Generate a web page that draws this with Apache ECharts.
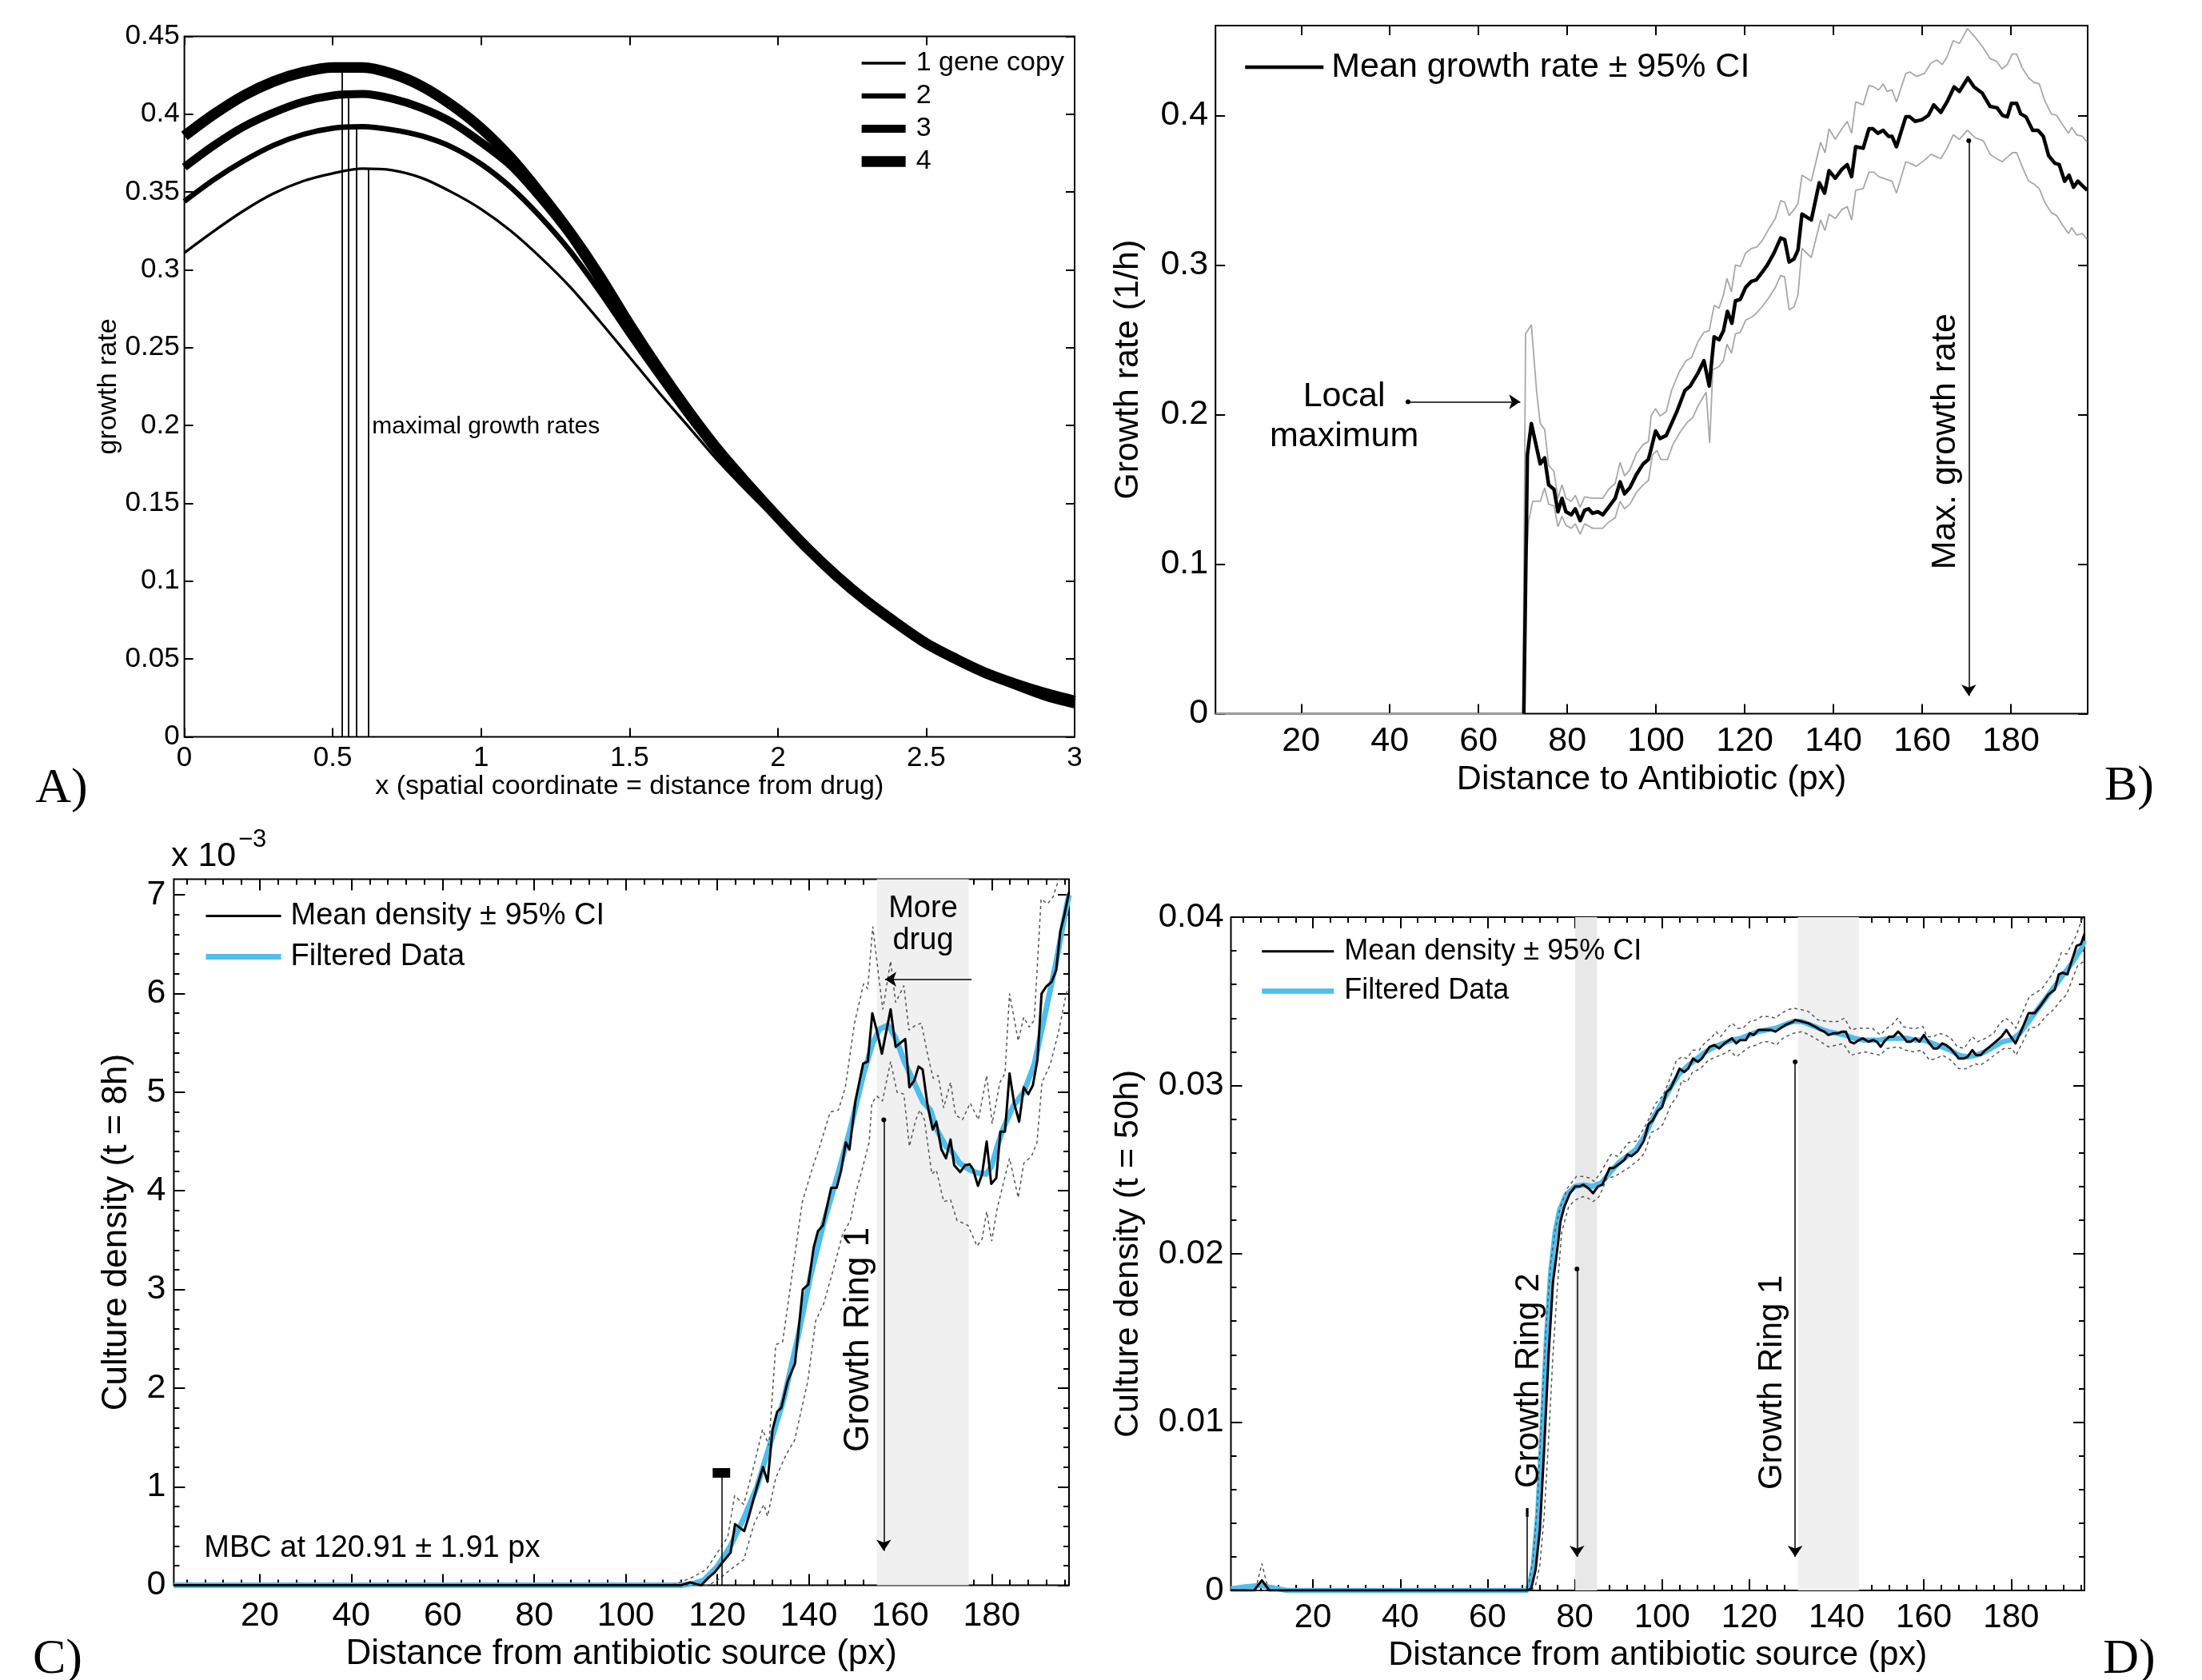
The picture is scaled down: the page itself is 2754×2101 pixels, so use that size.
<!DOCTYPE html>
<html><head><meta charset="utf-8">
<script src="https://cdn.jsdelivr.net/npm/echarts@6/dist/echarts.min.js"></script>
<style>html,body{margin:0;padding:0;background:#fff}#c{width:2754px;height:2101px}</style>
</head><body><div id="c"></div>
<script>
// ---------------- DATA ----------------
// Panel A: growth rate vs x for 1..4 gene copies
const aX  = [0,0.1,0.2,0.3,0.4,0.5,0.6,0.7,0.8,0.9,1.0,1.1,1.2,1.3,1.4,1.5,1.6,1.7,1.8,1.9,2.0,2.1,2.2,2.3,2.4,2.5,2.6,2.7,2.8,2.9,3.0];
const aC1 = [0.311,0.325,0.338,0.349,0.357,0.362,0.365,0.364,0.359,0.350,0.339,0.325,0.308,0.289,0.267,0.244,0.221,0.199,0.177,0.157,0.138,0.119,0.101,0.085,0.071,0.058,0.048,0.039,0.031,0.024,0.019];
const aC2 = [0.344,0.358,0.370,0.380,0.387,0.391,0.392,0.390,0.386,0.379,0.368,0.353,0.334,0.312,0.286,0.258,0.231,0.205,0.181,0.160,0.140,0.120,0.102,0.086,0.072,0.059,0.049,0.040,0.033,0.027,0.022];
const aC3 = [0.366,0.380,0.392,0.401,0.408,0.412,0.413,0.410,0.404,0.395,0.382,0.367,0.346,0.322,0.293,0.262,0.234,0.207,0.182,0.161,0.141,0.121,0.103,0.087,0.073,0.060,0.050,0.041,0.034,0.028,0.022];
const aC4 = [0.386,0.400,0.412,0.421,0.427,0.430,0.430,0.426,0.418,0.406,0.391,0.372,0.349,0.324,0.296,0.265,0.236,0.209,0.184,0.162,0.141,0.121,0.103,0.087,0.073,0.060,0.050,0.041,0.034,0.028,0.023];
const aNames = ['1 gene copy','2','3','4'];
const aPeakX = [0.531,0.554,0.581,0.619];
const aPeakY = [0.430,0.413,0.392,0.365];

// Panel B: growth rate (1/h) vs distance
const bMean = [[70.2,0],[71,0.173],[71.9,0.194],[73.9,0.167],[74.9,0.171],[75.8,0.153],[77,0.150],[77.9,0.135],[78.8,0.144],[79.7,0.135],[80.9,0.133],[81.8,0.137],[82.9,0.129],[83.9,0.136],[84.8,0.137],[85.7,0.134],[86.9,0.135],[88,0.133],[89.3,0.138],[90.8,0.144],[91.9,0.155],[92.9,0.147],[94.1,0.151],[95.6,0.160],[97.1,0.167],[98.3,0.170],[99.9,0.189],[100.9,0.184],[102.3,0.186],[103.5,0.194],[104.7,0.202],[106.5,0.216],[107.7,0.219],[109.5,0.228],[110.8,0.236],[112,0.219],[113.1,0.252],[114.2,0.250],[115.2,0.256],[116.1,0.269],[117.1,0.261],[117.9,0.276],[119,0.277],[120.2,0.285],[121.5,0.289],[122.6,0.290],[123.9,0.295],[125.1,0.300],[126.6,0.308],[128.1,0.318],[129,0.317],[130,0.302],[131.1,0.304],[132,0.310],[132.9,0.334],[135,0.330],[136.8,0.355],[138,0.348],[139,0.363],[140.4,0.358],[141.9,0.364],[143.1,0.367],[144.1,0.359],[145,0.379],[146.7,0.378],[148,0.391],[148.9,0.391],[150,0.388],[151.2,0.390],[152.4,0.386],[153.2,0.386],[154.2,0.379],[156.3,0.399],[157.2,0.399],[158.4,0.396],[159.9,0.397],[161.4,0.400],[162.6,0.407],[164.2,0.402],[165.6,0.409],[167.2,0.419],[168.4,0.416],[170.3,0.425],[171.7,0.419],[173.5,0.415],[175.3,0.406],[176.9,0.405],[178.1,0.400],[179.2,0.399],[180.1,0.408],[181.3,0.408],[182.2,0.401],[183.4,0.399],[184.9,0.390],[186.1,0.390],[187.3,0.386],[188.5,0.373],[189.9,0.368],[190.9,0.367],[192.1,0.356],[193.1,0.360],[194.1,0.352],[195.1,0.356],[196.1,0.353],[197.2,0.350]];
const bUpper = [[0.7,0],[70,0],[70.6,0.254],[71.9,0.260],[73.1,0.215],[73.9,0.194],[74.9,0.190],[75.8,0.166],[77,0.162],[77.9,0.144],[78.8,0.153],[79.7,0.144],[80.9,0.142],[81.8,0.146],[82.9,0.138],[83.9,0.145],[85.7,0.144],[88,0.144],[89.3,0.150],[90.8,0.154],[91.9,0.168],[92.9,0.159],[94.1,0.163],[95.6,0.174],[97.1,0.180],[98.3,0.182],[98.9,0.199],[99.9,0.204],[100.9,0.199],[102.3,0.202],[103.5,0.216],[105.3,0.229],[106.8,0.236],[108,0.238],[109.5,0.249],[110.8,0.255],[112,0.256],[113.1,0.273],[114.2,0.271],[115.2,0.280],[116,0.291],[117,0.282],[117.9,0.300],[119,0.299],[120.2,0.308],[121.5,0.311],[122.7,0.312],[123.9,0.316],[125.4,0.324],[126.9,0.331],[128.1,0.343],[129,0.342],[130,0.333],[131.1,0.337],[132,0.341],[132.9,0.360],[135,0.356],[137.1,0.382],[138.1,0.375],[139,0.391],[140.4,0.384],[141.9,0.391],[143.1,0.396],[144.1,0.388],[145,0.409],[146.7,0.407],[148,0.420],[149.1,0.419],[150.2,0.417],[151.2,0.421],[152.1,0.416],[153.2,0.417],[154.2,0.409],[156.3,0.428],[157.2,0.429],[158.7,0.426],[160.5,0.428],[162,0.435],[163.3,0.437],[164.5,0.434],[165.6,0.439],[167,0.450],[168.4,0.448],[170.2,0.458],[172,0.452],[173.8,0.445],[175.3,0.438],[176.8,0.436],[178,0.431],[179.2,0.434],[180.3,0.441],[181.3,0.441],[182.5,0.432],[184,0.425],[185.2,0.422],[186.4,0.421],[187.6,0.410],[189.1,0.401],[190.3,0.400],[191.8,0.393],[193,0.388],[193.7,0.392],[194.8,0.387],[196.1,0.386],[197.2,0.382]];
const bLower = [[0.7,0],[70,0],[70.7,0.098],[71.3,0.129],[72.2,0.142],[73.1,0.142],[73.9,0.142],[74.9,0.151],[75.8,0.140],[77,0.139],[77.9,0.125],[78.8,0.132],[79.7,0.126],[80.9,0.124],[81.8,0.127],[82.9,0.120],[83.9,0.127],[85.7,0.124],[88,0.124],[89.3,0.128],[90.8,0.131],[91.9,0.142],[92.9,0.137],[94.1,0.140],[95.6,0.148],[97.1,0.153],[98.3,0.156],[99.2,0.173],[100.2,0.176],[101.1,0.170],[102.6,0.170],[103.8,0.180],[105.6,0.189],[107.1,0.195],[108.3,0.198],[109.5,0.206],[110.7,0.212],[111.3,0.215],[112.1,0.181],[112.8,0.230],[114.2,0.232],[115.2,0.236],[116,0.247],[117,0.241],[117.9,0.254],[119,0.255],[120.2,0.263],[121.5,0.265],[122.7,0.268],[123.9,0.272],[125.4,0.278],[126.9,0.285],[128.1,0.293],[129,0.292],[130,0.270],[131.1,0.272],[132,0.280],[132.9,0.311],[135,0.305],[137.1,0.330],[138.1,0.323],[139,0.334],[140.4,0.331],[141.9,0.337],[143.1,0.339],[144.1,0.330],[145,0.350],[146.7,0.351],[148,0.362],[149.1,0.362],[150.2,0.359],[152.1,0.357],[153.2,0.356],[154.2,0.348],[156.3,0.369],[157.2,0.368],[158.7,0.366],[160.5,0.370],[162,0.374],[164.2,0.371],[165.6,0.378],[167,0.387],[168.4,0.384],[170.2,0.390],[172,0.385],[173.8,0.383],[175.3,0.374],[176.8,0.371],[178,0.369],[179.2,0.372],[180.3,0.375],[181.3,0.375],[182.5,0.366],[184,0.356],[185.2,0.354],[186.4,0.351],[187.6,0.342],[189.1,0.335],[190.3,0.333],[191.8,0.326],[193,0.321],[193.7,0.325],[194.8,0.320],[196.1,0.321],[197.2,0.317]];

// Panel C: culture density (x10^-3) at t = 8h
const cMean = [[1.2,0],[112,0],[114.1,0.03],[116.5,0],[117.9,0.07],[119.4,0.13],[121.1,0.23],[122.9,0.33],[123.9,0.62],[125.9,0.55],[126.9,0.70],[128.7,1.00],[130,1.20],[131,1.05],[132.1,1.58],[133.1,1.76],[134,1.80],[135.4,2.07],[137,2.25],[138.7,3.00],[139.9,3.05],[141.1,3.43],[142,3.59],[143.1,3.65],[144.9,4.03],[146.1,4.03],[147.1,4.21],[148.1,4.49],[148.9,4.42],[150.2,4.91],[151.9,5.29],[152.9,5.31],[153.9,5.80],[154.9,5.62],[156,5.39],[157.9,5.84],[159,5.46],[161.1,5.54],[162,5.05],[163.1,5.12],[164,5.26],[164.9,5.23],[166,4.86],[167.1,4.62],[167.9,4.70],[169,4.42],[170,4.33],[171,4.52],[171.8,4.26],[173.1,4.19],[174.2,4.26],[175.2,4.27],[175.9,4.22],[177,4.05],[177.9,4.17],[178.9,4.50],[179.9,4.07],[181,4.13],[181.9,4.60],[182.9,4.60],[183.9,5.19],[184.9,4.89],[186,4.70],[187,5.05],[188,4.98],[189,5.07],[190,5.33],[190.9,6.00],[191.9,6.07],[193.1,6.12],[194.1,6.24],[195,6.63],[195.9,6.80],[196.9,7.03]];
const cFilt = [[1.2,0],[112,0],[115,0.02],[117,0.05],[120,0.19],[122.9,0.40],[125.8,0.68],[128.7,1.0],[131.6,1.44],[134.5,1.88],[137.5,2.49],[140.4,3.14],[143.3,3.68],[146.2,4.14],[149.1,4.63],[152,5.19],[154,5.50],[155.5,5.64],[157.3,5.68],[159,5.55],[161,5.30],[163,5.10],[165,4.90],[166.6,4.82],[168,4.62],[170,4.45],[171.3,4.40],[173,4.28],[175.3,4.21],[177,4.18],[178.8,4.17],[180,4.25],[181.2,4.45],[182.5,4.63],[184.7,4.86],[187,5.0],[189.3,5.28],[191.7,5.8],[194,6.3],[196.3,6.87],[196.9,7.0]];
const cUpper = [[1.2,0],[110,0],[114.1,0.07],[117.6,0.16],[120,0.33],[122.3,0.49],[123.8,0.91],[125.8,0.82],[128.1,1.23],[129.9,1.58],[131.3,1.42],[132.8,2.44],[134.3,2.47],[136,3.03],[138.6,3.89],[141,4.26],[142.4,4.45],[144.7,4.80],[146.5,4.82],[148,5.05],[150,5.70],[152,6.10],[152.9,6.05],[154,6.68],[155.2,6.21],[156.2,5.84],[157.9,6.33],[159,5.91],[160.8,6.08],[161.9,5.63],[163.4,5.68],[164.6,5.70],[166,5.38],[167.2,5.14],[168.3,5.17],[169.5,4.84],[171,5.10],[172.1,4.77],[173.6,4.72],[175.3,4.89],[177.1,4.72],[178.9,5.17],[180.1,4.68],[181.8,5.10],[182.9,5.19],[183.9,6.00],[185.8,5.52],[187,5.76],[188.2,5.66],[189.3,5.73],[190.8,6.96],[192.2,6.91],[193.4,6.98],[194.6,7.15],[195.7,7.3],[196.9,7.4]];
const cLower = [[1.2,0],[118,0],[120,0.05],[122.9,0.16],[125.8,0.26],[128.1,0.63],[130.2,0.82],[131,0.70],[132.8,1.09],[135.1,1.33],[136.9,1.47],[139.8,2.07],[141.5,2.68],[143.3,2.86],[145.3,3.19],[147.4,3.56],[149.1,3.70],[150.3,3.98],[151.4,4.17],[153.2,4.49],[153.8,4.89],[154.9,4.96],[156.1,4.91],[157.9,5.31],[159.3,5.00],[160.8,4.98],[162,4.45],[163.4,4.72],[164.3,4.82],[165.3,4.72],[166.9,4.17],[167.9,4.21],[169.5,3.89],[171,3.91],[172.4,3.70],[174.8,3.65],[176.8,3.44],[177.9,3.51],[178.9,3.79],[180,3.49],[181.2,3.82],[182.3,4.03],[183.9,4.33],[185.8,3.93],[187,4.28],[188.7,4.35],[189.9,4.49],[191,5.10],[192.8,5.28],[194.6,5.61],[196.3,6.00],[196.9,6.07]];

// Panel D: culture density at t = 50h
const dMean = [[1.2,0],[6.5,0],[8.3,0.0006],[10,0],[69,0],[70,0.0001],[71,0.0012],[72,0.0036],[73,0.0085],[74,0.0140],[75,0.0183],[76.1,0.0205],[76.7,0.0219],[77.6,0.0228],[78.9,0.0236],[80.1,0.0240],[81,0.0240],[82,0.0241],[83.1,0.0239],[84.2,0.0236],[85.3,0.0240],[86.3,0.0241],[88,0.0251],[88.9,0.0251],[90.5,0.0254],[91.4,0.0256],[92.1,0.0259],[93,0.0258],[94.4,0.0261],[95.8,0.0267],[96.9,0.0277],[97.8,0.0279],[99,0.0285],[100,0.0287],[101,0.0296],[101.9,0.0298],[103,0.0304],[104,0.0310],[105.1,0.0308],[106,0.0310],[107.1,0.0316],[108.2,0.0314],[109.1,0.0316],[110.9,0.0323],[112,0.0324],[113.1,0.0322],[114.3,0.0325],[116,0.0328],[117,0.0325],[117.9,0.0327],[119.2,0.0327],[120.1,0.0331],[121,0.0330],[122.1,0.0333],[123.4,0.0333],[125,0.0333],[126,0.0332],[127.1,0.0334],[128.3,0.0336],[130.1,0.0338],[130.5,0.0339],[132,0.0338],[133.5,0.0337],[135,0.0335],[136.3,0.0333],[137.2,0.0332],[138.1,0.0330],[139.3,0.0331],[140.4,0.0331],[141.2,0.0332],[142.1,0.0332],[143.1,0.0326],[144,0.0325],[145.1,0.0327],[146,0.0328],[147.3,0.0326],[148.4,0.0327],[149.2,0.0326],[150.1,0.0323],[151.2,0.0327],[152.1,0.0329],[153,0.0329],[154.1,0.0332],[154.9,0.0330],[156.1,0.0326],[157,0.0326],[158.1,0.0328],[159,0.0326],[160,0.0330],[161,0.0326],[162.2,0.0322],[163.1,0.0322],[164.2,0.0325],[165.1,0.0324],[166.1,0.0322],[167.1,0.0319],[168,0.0316],[169.1,0.0316],[170,0.0317],[171.1,0.0321],[172,0.0318],[173,0.0318],[174.1,0.0321],[176,0.0325],[177.8,0.0329],[178.9,0.0333],[179.9,0.0329],[181,0.0325],[182.4,0.0333],[184,0.0343],[185.4,0.0343],[186.9,0.0348],[188.5,0.0354],[190,0.0357],[190.9,0.0366],[191.8,0.0367],[192.9,0.0366],[194,0.0375],[195,0.0383],[196,0.0384],[196.8,0.0390]];
const dFilt = [[1.2,0.0001],[4,0.0002],[8,0.0003],[12,0.0001],[14,0],[69,0],[69.7,0.0004],[70.5,0.0015],[71.5,0.0045],[72.5,0.0095],[73.5,0.0150],[74.5,0.0190],[75.5,0.0213],[76.5,0.0226],[78,0.0235],[80,0.0240],[82,0.0241],[84,0.0240],[86,0.0242],[88,0.0248],[90,0.0254],[92,0.0258],[94,0.0262],[96,0.0270],[98,0.0281],[100,0.0290],[102,0.0299],[104,0.0307],[106,0.0312],[108,0.0316],[110,0.0320],[112,0.0323],[114,0.0325],[116,0.0327],[118,0.0328],[120,0.0330],[122,0.0332],[124,0.0333],[126,0.0334],[128,0.0336],[130,0.0338],[132,0.0338],[134,0.0336],[136,0.0334],[138,0.0332],[140,0.0331],[142,0.0330],[144,0.0328],[146,0.0327],[148,0.0327],[150,0.0327],[152,0.0328],[154,0.0328],[156,0.0328],[158,0.0327],[160,0.0327],[162,0.0325],[164,0.0323],[166,0.0321],[168,0.0318],[170,0.0317],[172,0.0318],[174,0.0320],[176,0.0323],[178,0.0326],[180,0.0327],[182,0.0331],[184,0.0338],[186,0.0345],[188,0.0352],[190,0.0359],[192,0.0366],[194,0.0373],[196,0.0381],[196.8,0.0386]];
const dUpper = [[1.2,0],[6.8,0],[8.3,0.0016],[9.8,0],[68.5,0],[69.5,0.0004],[70.5,0.002],[71.5,0.0055],[72.5,0.011],[73.5,0.0160],[74.5,0.0195],[75.5,0.0214],[76.7,0.0228],[78.3,0.0239],[80.4,0.0246],[81.9,0.0246],[83.4,0.0245],[84.4,0.0243],[85.6,0.0247],[88.3,0.0259],[89.9,0.0258],[92.3,0.0266],[94.1,0.0267],[96.6,0.0278],[98.4,0.0289],[100.2,0.0294],[101.5,0.0302],[103.3,0.0315],[104.6,0.0317],[105.7,0.0316],[107,0.0321],[108.5,0.0321],[110,0.0326],[111.2,0.0328],[112.4,0.0332],[113.4,0.0329],[114.9,0.0334],[116.1,0.0337],[117.3,0.0334],[118.5,0.0334],[120.1,0.0338],[121.6,0.0339],[122.8,0.0341],[124.7,0.0341],[125.9,0.0340],[127.4,0.0343],[128.9,0.0345],[130.1,0.0346],[132,0.0345],[133.5,0.0344],[135.7,0.0339],[138.1,0.0338],[140.2,0.0338],[141.8,0.0340],[143.3,0.0333],[144.8,0.0334],[146.3,0.0334],[148.2,0.0334],[150,0.0330],[151.5,0.0334],[152.7,0.0336],[154,0.0340],[155.2,0.0335],[157,0.0334],[158.2,0.0334],[159.8,0.0335],[160.7,0.0329],[162.2,0.0329],[163.4,0.0331],[164.9,0.0330],[166.2,0.0328],[167.7,0.0323],[169.2,0.0322],[171.1,0.0329],[172.3,0.0326],[174.1,0.0328],[176,0.0331],[177.2,0.0336],[178.7,0.0340],[179.9,0.0338],[181.1,0.0334],[182.7,0.0344],[184.2,0.0353],[185.7,0.0355],[187.2,0.0358],[189.1,0.0365],[190.6,0.0372],[191.5,0.0379],[192.7,0.0378],[193.7,0.0383],[194.9,0.0389],[196.1,0.0398],[196.8,0.0401]];
const dLower = [[1.2,0],[70,0],[71,0.0003],[72,0.0015],[73,0.0045],[74,0.0090],[75,0.0140],[76,0.0180],[77,0.0213],[78.6,0.0228],[80.1,0.0232],[81.9,0.0234],[83.1,0.0233],[84.2,0.0231],[85.6,0.0234],[87.4,0.0245],[89.2,0.0246],[92.3,0.0251],[94.7,0.0256],[96,0.0260],[97.5,0.0272],[99,0.0274],[100.2,0.0277],[102.1,0.0289],[103.3,0.0293],[104.5,0.0303],[105.7,0.0302],[107,0.0308],[108.8,0.0310],[110.6,0.0315],[112.4,0.0317],[114.3,0.0319],[115.5,0.0321],[117,0.0317],[118.5,0.0320],[120.1,0.0323],[121.6,0.0324],[123.1,0.0326],[124.7,0.0326],[126.2,0.0324],[127.7,0.0328],[129.2,0.0330],[130.1,0.0331],[132,0.0332],[133.8,0.0330],[135.7,0.0327],[138.1,0.0323],[140.2,0.0324],[141.5,0.0325],[143.3,0.0318],[144.8,0.0319],[146.6,0.0320],[148.2,0.0319],[150,0.0318],[151.5,0.0322],[154,0.0323],[155.8,0.0321],[157.6,0.0320],[159.5,0.0321],[161.3,0.0315],[162.8,0.0316],[164.3,0.0318],[166.2,0.0315],[168,0.0310],[169.8,0.0310],[171.7,0.0313],[172.9,0.0312],[174.7,0.0315],[176.6,0.0319],[178.4,0.0322],[180.2,0.0322],[181.1,0.0318],[182.7,0.0326],[184.2,0.0334],[186,0.0335],[187.9,0.0341],[189.7,0.0345],[191.2,0.0350],[192.7,0.0354],[194,0.0363],[195.2,0.0371],[196.8,0.0374]];

// Tick labels
const aXTicks = [0,0.5,1,1.5,2,2.5,3];
const aYTicks = [0,0.05,0.1,0.15,0.2,0.25,0.3,0.35,0.4,0.45];
const pxTicks = [20,40,60,80,100,120,140,160,180];
const bYTicks = [0,0.1,0.2,0.3,0.4];
const cYTicks = [0,1,2,3,4,5,6,7];
const dYTicks = [0,0.01,0.02,0.03,0.04];

// ---------------- STYLE / LAYOUT ----------------
const FONT = "'Liberation Sans', Arial, Helvetica, sans-serif";
const SERIF = "'Liberation Serif', 'Times New Roman', serif";
const BLUE = '#4DBEEE';

function minorList(lo, hi, step, majorStep) {
  const out = [];
  for (let k = Math.ceil(lo / step); k * step <= hi + 1e-9; k++) {
    const v = +(k * step).toFixed(6);
    if (Math.abs(v / majorStep - Math.round(v / majorStep)) > 1e-6) out.push(v);
  }
  return out;
}

const grids = [
  {left:230.6, top:45.5, width:1113.4, height:875.9},
  {left:1520.2, top:32, width:1090.8, height:860.6},
  {left:217.4, top:1099.5, width:1119.6, height:883.1},
  {left:1539.5, top:1147, width:1067.5, height:842}
].map(g => Object.assign(g, {show:true, borderColor:'#000', borderWidth:2, backgroundColor:'transparent', containLabel:false}));

const xAxes = [], yAxes = [];
function axisSet(dim, g, cfg) {
  const arr = dim === 'x' ? xAxes : yAxes;
  const sides = dim === 'x' ? ['bottom','top'] : ['left','right'];
  const common = () => ({type:'value', gridIndex:g, min:cfg.min, max:cfg.max,
    axisLine:{show:false, onZero:false}, splitLine:{show:false}, minorTick:{show:false}, minorSplitLine:{show:false}});
  const tick = (vals, len) => ({show:true, inside:true, length:len, customValues:vals, lineStyle:{color:'#000', width:2}});
  const main = arr.length;
  arr.push(Object.assign(common(), {position:sides[0], name:cfg.name, nameLocation:'middle', nameGap:cfg.nameGap,
    nameRotate: dim === 'y' ? 90 : 0,
    nameTextStyle:{fontSize:cfg.nameFs, fontFamily:FONT, color:'#000'},
    axisTick:tick(cfg.major, cfg.tickLen),
    axisLabel:{show:true, customValues:cfg.major, fontSize:cfg.fs, fontFamily:FONT, color:'#000', margin:cfg.margin}}));
  arr.push(Object.assign(common(), {position:sides[1], axisTick:tick(cfg.major, cfg.tickLen), axisLabel:{show:false}}));
  if (cfg.minor) {
    sides.forEach(s => arr.push(Object.assign(common(), {position:s, axisTick:tick(cfg.minor, cfg.minorLen), axisLabel:{show:false}})));
  }
  return main;
}

const MX = [], MY = [];
// A
MX[0] = axisSet('x', 0, {min:0, max:3, major:aXTicks, fs:35, margin:9, name:'x (spatial coordinate = distance from drug)', nameGap:36, nameFs:34, tickLen:11});
MY[0] = axisSet('y', 0, {min:0, max:0.45, major:aYTicks, fs:35, margin:6, name:'growth rate', nameGap:77, nameFs:34, tickLen:11});
// B
MX[1] = axisSet('x', 1, {min:0.7, max:197.3, major:pxTicks, fs:43, margin:13, name:'Distance to Antibiotic (px)', nameGap:61, nameFs:43, tickLen:12});
MY[1] = axisSet('y', 1, {min:0, max:0.46, major:bYTicks, fs:43, margin:9, name:'Growth rate (1/h)', nameGap:88, nameFs:43, tickLen:12});
// C
MX[2] = axisSet('x', 2, {min:1.2, max:196.9, major:pxTicks, minor:minorList(1.2,196.9,4,20), fs:43, margin:17, name:'Distance from antibiotic source (px)', nameGap:64, nameFs:44, tickLen:14, minorLen:7});
MY[2] = axisSet('y', 2, {min:0, max:7.16, major:cYTicks, minor:minorList(0,7.16,0.2,1), fs:43, margin:10, name:'Culture density (t = 8h)', nameGap:50, nameFs:44, tickLen:14, minorLen:7});
// D
MX[3] = axisSet('x', 3, {min:1.2, max:196.8, major:pxTicks, minor:minorList(1.2,196.8,4,20), fs:42, margin:13, name:'Distance from antibiotic source (px)', nameGap:60, nameFs:43, tickLen:14, minorLen:7});
MY[3] = axisSet('y', 3, {min:0, max:0.04, major:dYTicks, minor:minorList(0,0.04,0.002,0.01), fs:42, margin:9, name:'Culture density (t = 50h)', nameGap:107, nameFs:43, tickLen:14, minorLen:7});

const series = [];
function lineS(g, name, data, lineStyle, extra) {
  const s = Object.assign({type:'line', name:name, xAxisIndex:MX[g], yAxisIndex:MY[g], data:data,
    symbol:'none', showSymbol:false, silent:true, animation:false, clip:true, lineStyle:lineStyle}, extra || {});
  series.push(s);
  return s;
}
const arrowLine = (from, to, dot, width) => [
  {coord:from, symbol: dot ? 'circle' : 'none', symbolSize: 6, lineStyle:{width: width || 1.5}},
  {coord:to, symbol: width ? 'none' : 'arrow', symbolSize: 14, lineStyle:{width: width || 1.5}}
];
const mlBase = (data) => ({silent:true, animation:false, symbol:['none','none'], label:{show:false},
  lineStyle:{color:'#000', type:'solid', width:1.5}, emphasis:{disabled:true}, data:data});

// Panel A
const aWidths = [3.3, 6.7, 10, 13.3];
[aC1, aC2, aC3, aC4].forEach((c, i) => {
  lineS(0, aNames[i], aX.map((x, k) => [x, c[k]]), {color:'#000', width:aWidths[i], cap:'butt'}, {smooth:0.3});
});
lineS(0, '', [[aPeakX[0], 0]], {color:'#000', width:0}, {
  markLine: mlBase(aPeakX.map((x, i) => [{coord:[x, 0]}, {coord:[x, aPeakY[i]]}]))
});
series[series.length - 1].markLine.lineStyle.width = 1.8;

// Panel B
lineS(1, '', bUpper, {color:'#a8a8a8', width:1.8});
lineS(1, '', bLower, {color:'#a8a8a8', width:1.8});
lineS(1, 'Mean growth rate ± 95% CI', bMean, {color:'#000', width:4.5, join:'round'}, {
  markLine: mlBase([arrowLine([44.1, 0.2085], [69.4, 0.2085], true), arrowLine([170.5, 0.383], [170.5, 0.012], true)])
});

// Panel C
lineS(2, 'Filtered Data', cFilt, {color:BLUE, width:7, join:'round'}, {
  markArea:{silent:true, label:{show:false}, itemStyle:{color:'#f0f0f0'}, data:[[{xAxis:154.9}, {xAxis:175.0}]]}
});
lineS(2, '', cUpper, {color:'#555', width:1.5, type:[4,4]});
lineS(2, '', cLower, {color:'#555', width:1.5, type:[4,4]});
lineS(2, 'Mean density ± 95% CI', cMean, {color:'#000', width:3, join:'round'}, {
  markLine: mlBase([
    arrowLine([175.6, 6.145], [156.7, 6.145], false),
    arrowLine([156.4, 4.72], [156.4, 0.35], true),
    arrowLine([120.91, 0], [120.91, 1.14], false, 1.5),
    arrowLine([119.0, 1.14], [122.82, 1.14], false, 12)
  ])
});

// Panel D
lineS(3, 'Filtered Data', dFilt, {color:BLUE, width:6.5, join:'round'}, {
  markArea:{silent:true, label:{show:false}, data:[
    [{xAxis:80.1, itemStyle:{color:'#e8e8e8'}}, {xAxis:85.1}],
    [{xAxis:131.1, itemStyle:{color:'#f0f0f0'}}, {xAxis:145.1}]
  ]}
});
lineS(3, '', dUpper, {color:'#555', width:1.5, type:[4,4]});
lineS(3, '', dLower, {color:'#555', width:1.5, type:[4,4]});
lineS(3, 'Mean density ± 95% CI', dMean, {color:'#000', width:3, join:'round'}, {
  markLine: mlBase([
    arrowLine([80.5, 0.0191], [80.5, 0.0020], true),
    arrowLine([130.5, 0.0314], [130.5, 0.0020], true),
    arrowLine([69.1, 0], [69.1, 0.0044], false, 1.5),
    arrowLine([68.8, 0.00465], [69.4, 0.00465], false, 11)
  ])
});

function legendAt(left, top, itemWidth, rowH, fs, pad, items) {
  return {orient:'vertical', left:left, top:top, padding:0, itemGap:0, selectedMode:false,
    itemWidth:itemWidth, itemHeight:rowH, itemStyle:{opacity:0},
    textStyle:{fontFamily:FONT, color:'#000', fontSize:fs, lineHeight:rowH, padding:[0,0,0,pad]},
    data:items};
}
const legends = [
  legendAt(1071, 58.5, 55, 41, 34, 8, aNames.map((n, i) => ({name:n, lineStyle:{width:aWidths[i], color:'#000'}}))),
  legendAt(1555, 62, 98, 44, 43, 5, [{name:'Mean growth rate ± 95% CI', lineStyle:{width:4.5, color:'#000'}}]),
  legendAt(254, 1120, 94, 51, 38, 7, [{name:'Mean density ± 95% CI', lineStyle:{width:3, color:'#000'}}, {name:'Filtered Data', lineStyle:{width:7, color:BLUE}}]),
  legendAt(1575, 1165, 90, 49.6, 36, 8, [{name:'Mean density ± 95% CI', lineStyle:{width:3, color:'#000'}}, {name:'Filtered Data', lineStyle:{width:6.5, color:BLUE}}])
];

const option = {
  backgroundColor:'#fff', animation:false,
  textStyle:{fontFamily:FONT},
  grid:grids, xAxis:xAxes, yAxis:yAxes, series:series, legend:legends
};

const chart = echarts.init(document.getElementById('c'), null, {renderer:'canvas', width:2754, height:2101});
chart.setOption(option);

// ---------------- TEXT ANNOTATIONS (placed in data coordinates) ----------------
const annotations = [
  {g:0, x:0.632, y:0.199, text:'maximal growth rates', fs:30, align:'left'},
  {g:1, x:29.7, y:0.1988, text:'Local\nmaximum', fs:43, lh:50},
  {g:1, x:165.2, y:0.182, text:'Max. growth rate', fs:43, rot:true},
  {g:2, x:165.0, y:6.70, text:'More\ndrug', fs:38, lh:40},
  {g:2, x:150.9, y:2.49, text:'Growth Ring 1', fs:44, rot:true},
  {g:2, x:7.83, y:0.374, text:'MBC at 120.91 ± 1.91 px', fs:38, align:'left'},
  {g:3, x:69.6, y:0.01246, text:'Growth Ring 2', fs:42, rot:true},
  {g:3, x:125.3, y:0.01236, text:'Growth Ring 1', fs:42, rot:true}
];
const gfx = [];
annotations.forEach(a => {
  const p = chart.convertToPixel({xAxisIndex:MX[a.g], yAxisIndex:MY[a.g]}, [a.x, a.y]);
  gfx.push({type:'text', x:p[0], y:p[1], rotation: a.rot ? Math.PI / 2 : 0, z:100, silent:true,
    style:{text:a.text, fontSize:a.fs, fontFamily:FONT, fill:'#000', align:a.align || 'center', verticalAlign:'middle', lineHeight:a.lh || a.fs}});
});
// panel letters and exponent label
[['A)', 77, 987], ['B)', 2663, 984], ['C)', 72, 2076], ['D)', 2663, 2076]].forEach(t => {
  gfx.push({type:'text', x:t[1], y:t[2], z:100, silent:true, style:{text:t[0], fontSize:62, fontFamily:SERIF, fill:'#000', align:'center', verticalAlign:'middle'}});
});
gfx.push({type:'text', x:214, y:1071, z:100, silent:true, style:{text:'x 10', fontSize:43, fontFamily:FONT, fill:'#000', align:'left', verticalAlign:'middle'}});
gfx.push({type:'text', x:298, y:1050, z:100, silent:true, style:{text:'−3', fontSize:31, fontFamily:FONT, fill:'#000', align:'left', verticalAlign:'middle'}});
chart.setOption({graphic: gfx});
</script></body></html>
